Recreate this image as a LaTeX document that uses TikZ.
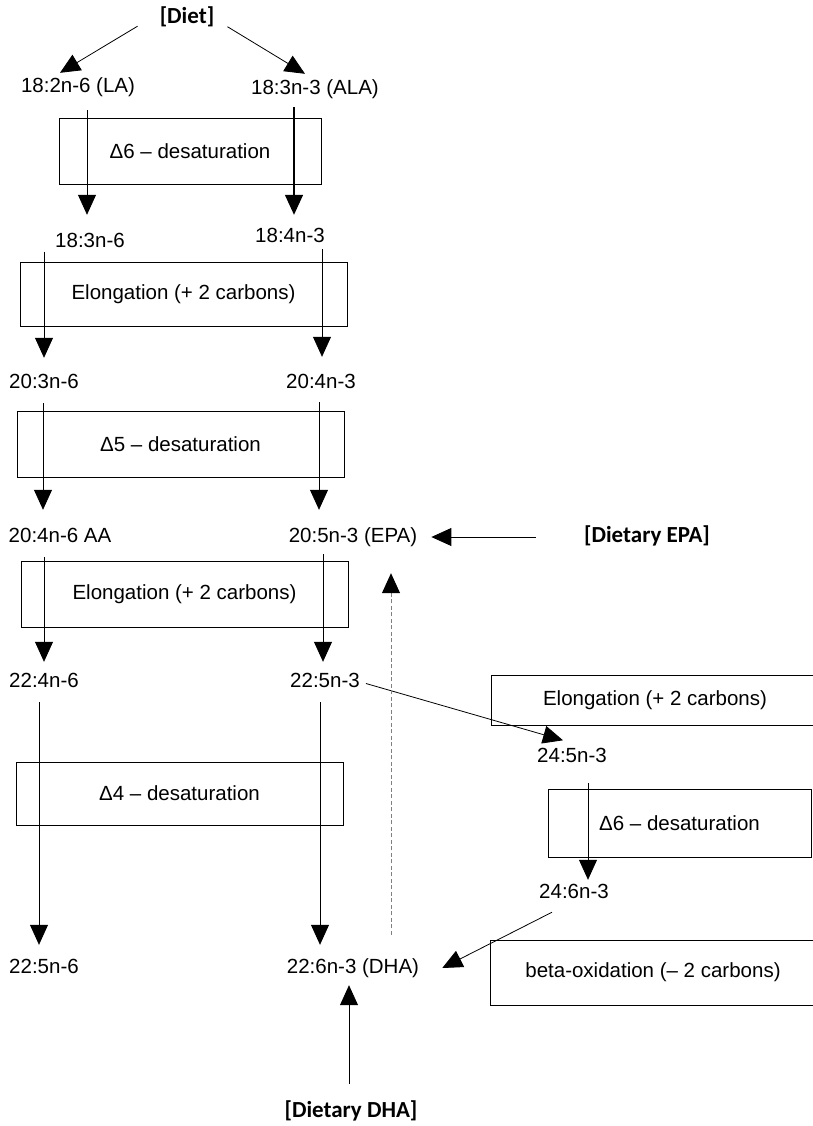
\documentclass[tikz,border=0pt]{standalone}
\usepackage{fontspec}
\setmainfont{Liberation Sans}
\newfontfamily\dietfont{Carlito}
\usetikzlibrary{arrows.meta}

\tikzset{
  acid/.style={inner sep=0pt, text height=15pt, text depth=4pt, font=\fontsize{20.5}{24}\selectfont},
  source/.style={inner sep=0pt, text height=16pt, text depth=5pt, font=\dietfont\bfseries\fontsize{23}{27}\selectfont},
  stepbox/.style={draw, line width=0.8pt, inner sep=0pt, font=\fontsize{20.5}{24}\selectfont},
  arr/.style={line width=0.8pt, -{Triangle[length=20pt,width=18pt]}},
  backarr/.style={line width=1pt, gray, dash pattern=on 4pt off 2.5pt, -{Triangle[length=20pt,width=18pt,color=black]}},
}

\begin{document}
\begin{tikzpicture}[x=1pt, y=-1pt]
            \useasboundingbox (0,0) rectangle (813,1126);
            % enzyme steps
            \node [stepbox, minimum width=262, minimum height=66] (desatsix) at (190,151) {Δ6 – desaturation};
            \node [stepbox, minimum width=327, minimum height=64] (elongone) at (183.5,294) {Elongation (+ 2 carbons)};
            \node [stepbox, minimum width=327, minimum height=66] (desatfive) at (180.5,444) {Δ5 – desaturation};
            \node [stepbox, minimum width=327, minimum height=66] (elongtwo) at (184.5,594) {Elongation (+ 2 carbons)};
            \node [stepbox, minimum width=327, minimum height=63] (desatfour) at (179.5,793.5) {Δ4 – desaturation};
            \node [stepbox, minimum width=328, minimum height=50] (elongthree) at (655,700) {Elongation (+ 2 carbons)};
            \node [stepbox, minimum width=263, minimum height=68] (desatsixb) at (679.5,823) {Δ6 – desaturation};
            \node [stepbox, minimum width=326, minimum height=65] (betaox) at (653,972.5) {beta-oxidation (– 2 carbons)};
            % fatty acids
            \node [source] (diet) at (187,18) {[Diet]};
            \node [acid] (la) at (78,87) {18:2n-6 (LA)};
            \node [acid] (ala) at (315,89) {18:3n-3 (ALA)};
            \node [acid] (gla) at (90,242) {18:3n-6};
            \node [acid] (sda) at (290,237) {18:4n-3};
            \node [acid] (dgla) at (44,383) {20:3n-6};
            \node [acid] (eta) at (321,383) {20:4n-3};
            \node [acid] (aa) at (60,537) {20:4n-6 AA};
            \node [acid] (epa) at (353,537) {20:5n-3 (EPA)};
            \node [source] (depa) at (647,537) {[Dietary EPA]};
            \node [acid] (adr) at (44,682) {22:4n-6};
            \node [acid] (dpa) at (325,682) {22:5n-3};
            \node [acid] (tpa) at (572,757) {24:5n-3};
            \node [acid] (thp) at (574,893) {24:6n-3};
            \node [acid] (dpasix) at (44,968) {22:5n-6};
            \node [acid] (dha) at (353,968) {22:6n-3 (DHA)};
            \node [source] (ddha) at (351,1112) {[Dietary DHA]};
            % arrows
            \draw [arr] ([xshift=-22pt, yshift=2.5pt]diet.south west) -- ([xshift=-18pt, yshift=4.5pt]la.north);
            \draw [arr] ([xshift=13pt, yshift=2pt]diet.south east) -- ([xshift=-10pt, yshift=5.5pt]ala.north);
            \draw [arr] ([xshift=9pt, yshift=-13.5pt]la.south) -- ([xshift=-3pt, yshift=17.5pt]gla.north);
            \draw [arr, line width=1.4pt] ([xshift=-21pt, yshift=-8.5pt]ala.south) -- ([xshift=4pt, yshift=12.5pt]sda.north);
            \draw [arr] ([xshift=-46pt]gla.south) -- ([yshift=15.5pt]dgla.north);
            \draw [arr] ([xshift=32pt, yshift=-2.5pt]sda.south) -- ([xshift=1pt, yshift=16.5pt]eta.north);
            \draw [arr] ([xshift=-1pt, yshift=-10.5pt]dgla.south) -- ([xshift=-17pt, yshift=17.5pt]aa.north);
            \draw [arr] ([xshift=-2pt, yshift=-9.5pt]eta.south) -- ([xshift=-34pt, yshift=17.5pt]epa.north);
            \draw [arr] ([xshift=-16pt, yshift=-10.5pt]aa.south) -- ([yshift=10.5pt]adr.north);
            \draw [arr] ([xshift=-30pt, yshift=-7.5pt]epa.south) -- ([xshift=-2pt, yshift=10.5pt]dpa.north);
            \draw [arr] ([xshift=-5pt, yshift=-10.5pt]adr.south) -- ([xshift=-5pt, yshift=13.5pt]dpasix.north);
            \draw [arr] ([xshift=-5pt, yshift=-10.5pt]dpa.south) -- ([xshift=-33pt, yshift=13.5pt]dha.north);
            \draw [arr] ([xshift=6pt, yshift=-1.5pt]dpa.east) -- ([xshift=-9pt, yshift=7pt]tpa.north);
            \draw [arr] ([xshift=16pt, yshift=-16.5pt]tpa.south) -- ([xshift=14pt, yshift=3.5pt]thp.north);
            \draw [arr] ([xshift=-22pt, yshift=-9.5pt]thp.south) -- ([xshift=23pt]dha.east);
            \draw [arr] ([xshift=-48pt]depa.west) -- ([xshift=14pt]epa.east);
            \draw [arr] ([xshift=-2pt, yshift=17.5pt]ddha.north) -- ([xshift=-4pt, yshift=-7.5pt]dha.south);
            \draw [backarr] ([xshift=38pt, yshift=23.5pt]dha.north) -- ([xshift=38pt, yshift=-26.5pt]epa.south); %dashed return
        \end{tikzpicture}
\end{document}
